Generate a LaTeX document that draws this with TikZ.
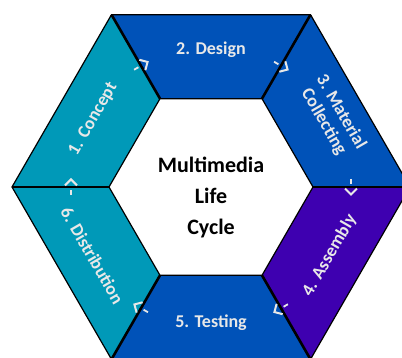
\documentclass[tikz,border=0pt]{standalone}
\usepackage{fontspec}
\setmainfont{Carlito}
\usetikzlibrary{arrows.meta}
\definecolor{segteal}{RGB}{0,153,184}
\definecolor{segblue}{RGB}{0,82,184}
\definecolor{segpurple}{RGB}{62,0,176}
\definecolor{labelgray}{RGB}{232,232,232}

\begin{document}
\begin{tikzpicture}[x=1pt, y=1pt,
    seglabel/.style={text=labelgray, font=\fontsize{18}{20}\selectfont\bfseries, align=center},
    flow/.style={labelgray, line width=1.8pt, dash pattern=on 5pt off 20pt,
                 -{Straight Barb[length=6pt, width=12pt, line width=2pt]}}]
    \useasboundingbox (-211,-171) rectangle (191,187);
    \clip (-211,-171) rectangle (191,187);
    \foreach \a/\color in {0/segblue, 60/segblue, 120/segteal, 180/segteal, 240/segblue, 300/segpurple}
      \fill[color=\color] (\a:102) -- (\a:199) -- (\a+60:199) -- (\a+60:102) -- cycle;
    \draw[line width=1.2pt] (0:199) -- (60:199) -- (120:199) -- (180:199) -- (240:199) -- (300:199) -- cycle;
    \draw[line width=1.2pt] (0:102) -- (60:102) -- (120:102) -- (180:102) -- (240:102) -- (300:102) -- cycle;
    \foreach \a in {0,60,...,300}
      \draw[line width=2.6pt] (\a:102) -- (\a:199);
    \foreach \a in {0,60,...,300}
      \draw[flow, shift={(\a:140)}, rotate=\a-90] (-8,0) -- (9,0);
    \node[seglabel, rotate=60]  (concept)      at (150:136) {1. Concept};
    \node[seglabel]             (design)       at (90:137)  {2. Design};
    \node[seglabel, rotate=-60] (material)     at (30:140)  {3. Material\\Collecting};
    \node[seglabel, rotate=60]  (assembly)     at (330:137) {4. Assembly};
    \node[seglabel]             (testing)      at (270:136) {5. Testing};
    \node[seglabel, rotate=-60] (distribution) at (210:137) {6. Distribution};
    \node[font=\fontsize{22}{31}\selectfont\bfseries, align=center] (title) at (0,-10) {Multimedia\\Life\\Cycle};
  \end{tikzpicture}
\end{document}
